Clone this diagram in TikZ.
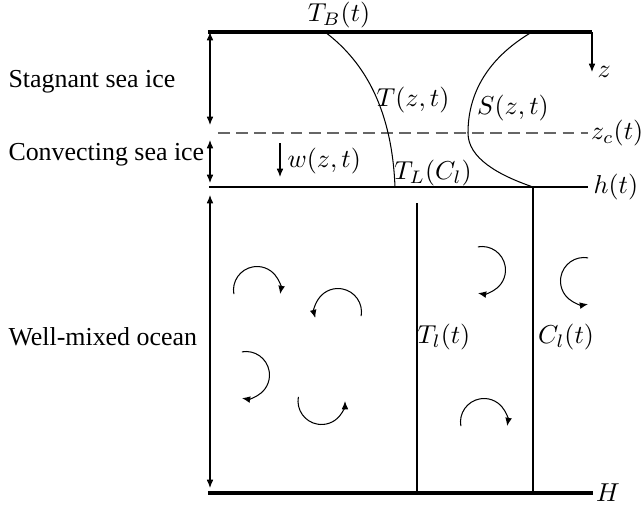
\documentclass[tikz,border=0pt]{standalone}
\usepackage{fontspec}
\setmainfont{Liberation Serif}
\usetikzlibrary{arrows.meta}

\begin{document}
\begin{tikzpicture}[x=0.386pt, y=0.386pt, thin,
  >={Latex[length=3.2pt,width=2.6pt]},
  interface/.style={line width=1.2pt},
  layer/.style={anchor=west, inner sep=0pt}]
  \useasboundingbox (-208,-15) rectangle (434,493);
  % ice surface at 461, convection front at 360, ice--ocean interface at 306, ocean floor at 0
  \coordinate (TW) at (0,461);  \coordinate (TE) at (384,461);
  \coordinate (ZW) at (10,360); \coordinate (ZE) at (380,360);
  \coordinate (HW) at (1,306);  \coordinate (HE) at (380,306);
  \coordinate (BW) at (0,0);    \coordinate (BE) at (385,0);

  \draw[interface] (TW) -- (TE);
  \draw[interface] (BW) -- (BE);
  \draw[black!60, dash pattern=on 4.6pt off 2.4pt] (ZW) -- (ZE);
  \draw (HW) -- (HE);

  % thickness of each layer
  \coordinate (s1) at (2,461); \coordinate (s2) at (2,368);
  \coordinate (c1) at (2,353); \coordinate (c2) at (2,310);
  \coordinate (o1) at (2,298); \coordinate (o2) at (2,5);
  \draw[<->] (s1) -- (s2);
  \draw[<->] (c1) -- (c2);
  \draw[<->] (o1) -- (o2);

  \node[layer] (stag) at (-200,411) {Stagnant sea ice};
  \node[layer] (conv) at (-200,338) {Convecting sea ice};
  \node[layer] (ocean) at (-200,156) {Well-mixed ocean};

  % depth axis
  \coordinate (zend) at (384,421);
  \draw[->] (TE) -- (zend);
  \node[right, inner sep=2pt] (z) at (zend) {$z$};

  % temperature and salinity profiles
  \coordinate (T0) at (117,461); \coordinate (TL) at (187,306);
  \coordinate (S0) at (324,461); \coordinate (Sc) at (260,360); \coordinate (SE) at (325,306);
  \draw (T0) .. controls (157,431) and (184,383) .. (TL);
  \draw (S0) .. controls (285,438) and (260,405) .. (Sc)
             .. controls (260,335) and (290,318) .. (SE);

  % ocean columns
  \coordinate (Tl0) at (209,290); \coordinate (Tl1) at (209,0);
  \coordinate (Cl1) at (325,0);
  \draw (Tl0) -- (Tl1);
  \draw (SE) -- (Cl1);

  % brine velocity
  \coordinate (w0) at (72,350); \coordinate (w1) at (72,316);
  \draw[->] (w0) -- (w1);
  \node[anchor=west, inner sep=0pt] (w) at (79,332) {$w(z,t)$};

  \node (TB) at (131,478) {$T_B(t)$};
  \node (T) at (205,393) {$T(z,t)$};
  \node (S) at (305,385) {$S(z,t)$};
  \node (TLC) at (225,320) {$T_L(C_l)$};
  \node[right, inner sep=1pt] (zc) at (ZE) {$z_c(t)$};
  \node[right, inner sep=2pt] (h) at (HE) {$h(t)$};
  \node[right, inner sep=1pt] (H) at (BE) {$H$};
  \node (Tl) at (236,156) {$T_l(t)$};
  \node (Cl) at (358,156) {$C_l(t)$};

  % eddies
  \foreach \cx/\cy/\from/\to in {49/203/190/-10, 130/181/-10/195, 38/118/100/-100,
      113.5/92/170/360, 274/223/100/-100, 376/212/80/280, 276/71/190/-10}
    \draw[->] (\cx,\cy) ++(\from:23.5) arc[start angle=\from, end angle=\to, radius=23.5];
\end{tikzpicture}
\end{document}
